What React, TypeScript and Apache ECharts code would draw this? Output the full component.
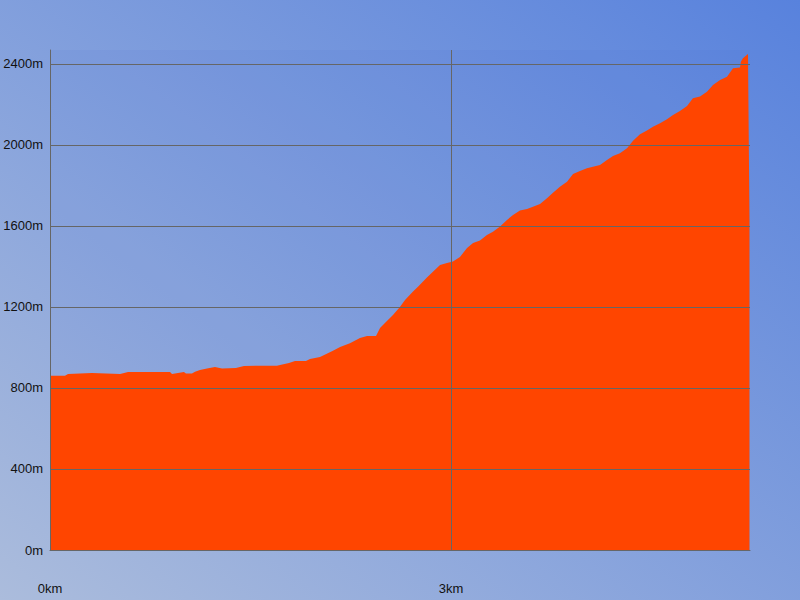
import React, { useEffect, useRef } from "react";
import * as echarts from "echarts";

const distanceKm = [
  0, 0.112, 0.135, 0.314, 0.524, 0.584, 0.898, 0.913, 1.002, 1.017, 1.062, 1.085, 1.122, 1.175,
  1.234, 1.287, 1.391, 1.451, 1.586, 1.698, 1.721, 1.788, 1.833, 1.915, 1.945, 2.02, 2.117, 2.17,
  2.244, 2.319, 2.372, 2.439, 2.469, 2.506, 2.566, 2.618, 2.656, 2.716, 2.753, 2.82, 2.865, 2.918,
  2.97, 3.015, 3.067, 3.12, 3.165, 3.217, 3.269, 3.314, 3.367, 3.419, 3.464, 3.516, 3.569, 3.613,
  3.666, 3.718, 3.763, 3.815, 3.868, 3.913, 3.965, 4.017, 4.062, 4.115, 4.167, 4.212, 4.264, 4.317,
  4.362, 4.414, 4.466, 4.511, 4.564, 4.616, 4.661, 4.713, 4.766, 4.81, 4.863, 4.915, 4.96, 5.013,
  5.065, 5.11, 5.162, 5.169, 5.184, 5.222, 5.233,
];

const elevationM = [
  861, 861, 869, 874, 869, 879, 879, 869, 879, 871, 871, 880, 889, 896,
  904, 896, 899, 909, 910, 910, 914, 923, 933, 933, 943, 953, 984, 1002,
  1021, 1047, 1057, 1057, 1096, 1121, 1160, 1200, 1235, 1276, 1300, 1345, 1374, 1407,
  1417, 1424, 1447, 1491, 1516, 1528, 1556, 1572, 1597, 1630, 1654, 1676, 1684, 1695,
  1709, 1737, 1764, 1794, 1819, 1857, 1872, 1885, 1893, 1901, 1926, 1946, 1959, 1984,
  2021, 2053, 2071, 2090, 2107, 2127, 2148, 2168, 2193, 2231, 2239, 2263, 2296, 2321,
  2337, 2379, 2382, 2411, 2428, 2449, 1635,
];

const xLabelTicks = [0, 3];
const xMax = 5.237;
const yMax = 2469;
const yInterval = 400;

export default function App() {
  const ref = useRef<HTMLDivElement>(null);

  useEffect(() => {
    if (!ref.current) return;
    const chart = echarts.init(ref.current, null, { renderer: "svg" });
    const data = distanceKm.map((d, i) => [d, elevationM[i]]);
    chart.setOption({
      animation: false,
      backgroundColor: {
        type: "linear",
        x: 0,
        y: 1,
        x2: 1,
        y2: 0,
        colorStops: [
          { offset: 0, color: "#abbcdc" },
          { offset: 1, color: "#5882dd" },
        ],
      },
      grid: {
        left: 50,
        top: 50,
        width: 700,
        height: 500,
        show: true,
        backgroundColor: "rgba(60,100,220,0.08)",
        borderWidth: 0,
      },
      xAxis: {
        type: "value",
        min: 0,
        max: xMax,
        interval: 3,
        z: 5,
        axisLine: { show: true, lineStyle: { color: "#666666", width: 1 } },
        axisTick: { show: false },
        axisLabel: {
          margin: 32,
          color: "#111111",
          fontFamily: "Liberation Sans",
          fontSize: 13,
          showMaxLabel: false,
          formatter: (v: number) => (xLabelTicks.includes(v) ? `${v}km` : ""),
        },
        splitLine: {
          show: true,
          showMinLine: false,
          showMaxLine: false,
          lineStyle: { color: "#666666", width: 1 },
        },
      },
      yAxis: {
        type: "value",
        min: 0,
        max: yMax,
        interval: yInterval,
        z: 5,
        axisLine: { show: true, lineStyle: { color: "#666666", width: 1 } },
        axisTick: { show: false },
        axisLabel: {
          margin: 7,
          color: "#111111",
          fontFamily: "Liberation Sans",
          fontSize: 13,
          showMaxLabel: false,
          formatter: (v: number) => (v % yInterval === 0 ? `${v}m` : ""),
        },
        splitLine: {
          show: true,
          showMinLine: false,
          showMaxLine: false,
          lineStyle: { color: "#666666", width: 1 },
        },
      },
      series: [
        {
          type: "line",
          data,
          symbol: "none",
          z: 2,
          lineStyle: { width: 0 },
          areaStyle: { color: "#ff4500", opacity: 1 },
        },
      ],
    });
    return () => chart.dispose();
  }, []);

  return (
    <div
      ref={ref}
      style={{ position: "fixed", left: 0, top: 0, width: 800, height: 600 }}
    />
  );
}
